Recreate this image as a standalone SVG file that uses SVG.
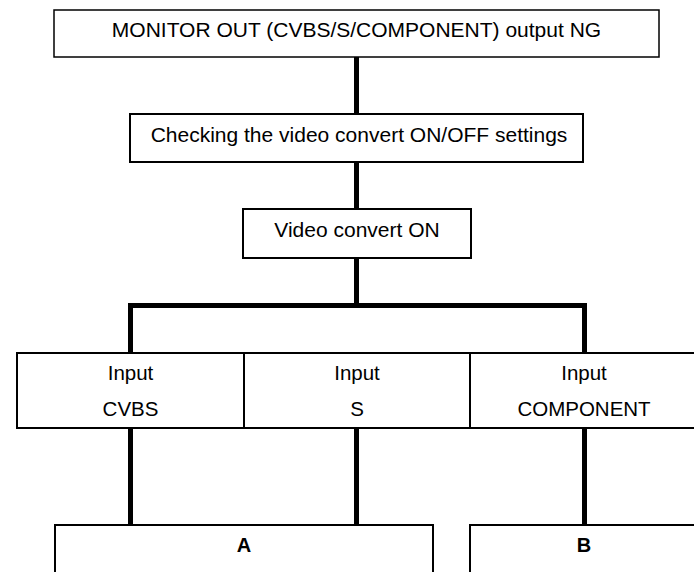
<svg xmlns="http://www.w3.org/2000/svg" width="694" height="572" viewBox="0 0 694 572">
<style>
.box{fill:#fff;stroke:#000;stroke-width:2}
.thin{stroke-width:1.5}
.t{font-family:"Liberation Sans",Arial,sans-serif;font-size:21px;fill:#000;text-anchor:middle}
.in{font-size:20.5px}
.b{font-weight:bold;font-size:20px}
.conn{fill:none;stroke:#000;stroke-width:5;stroke-linejoin:miter;stroke-linecap:butt}
</style>
<rect width="694" height="572" fill="#fff"/>
<g id="connectors">
<path class="conn" d="M356.5,57 V114"/>
<path class="conn" d="M356.5,162 V209"/>
<path class="conn" d="M356.5,258 V305.5"/>
<path class="conn" d="M130.5,353 V305.5 H584.5 V353"/>
<path class="conn" d="M130.5,428 V525"/>
<path class="conn" d="M356.5,428 V525"/>
<path class="conn" d="M584.5,428 V525"/>
</g>
<g id="n-monitor">
<rect class="box thin" x="54" y="10" width="605" height="47"/>
<text class="t" x="356.5" y="37" font-size="20.9">MONITOR OUT (CVBS/S/COMPONENT) output NG</text>
</g>
<g id="n-checking">
<rect class="box" x="130" y="114" width="453" height="48"/>
<text class="t" x="359" y="142" font-size="21.2">Checking the video convert ON/OFF settings</text>
</g>
<g id="n-video">
<rect class="box" x="243" y="209" width="228" height="49"/>
<text class="t" x="357" y="237">Video convert ON</text>
</g>
<g id="n-input-cvbs">
<rect class="box" x="17" y="353" width="227" height="75"/>
<text class="t in" x="130.5" y="380">Input</text>
<text class="t in" x="130.5" y="416">CVBS</text>
</g>
<g id="n-input-s">
<rect class="box" x="244" y="353" width="226" height="75"/>
<text class="t in" x="357" y="380">Input</text>
<text class="t in" x="357" y="416">S</text>
</g>
<g id="n-input-component">
<rect class="box" x="470" y="353" width="228" height="75"/>
<text class="t in" x="584" y="380">Input</text>
<text class="t in" x="584" y="416">COMPONENT</text>
</g>
<g id="n-a">
<rect class="box" x="55" y="525" width="378" height="60"/>
<text class="t b" x="244" y="552">A</text>
</g>
<g id="n-b">
<rect class="box" x="470" y="525" width="240" height="60"/>
<text class="t b" x="584" y="552">B</text>
</g>
</svg>
